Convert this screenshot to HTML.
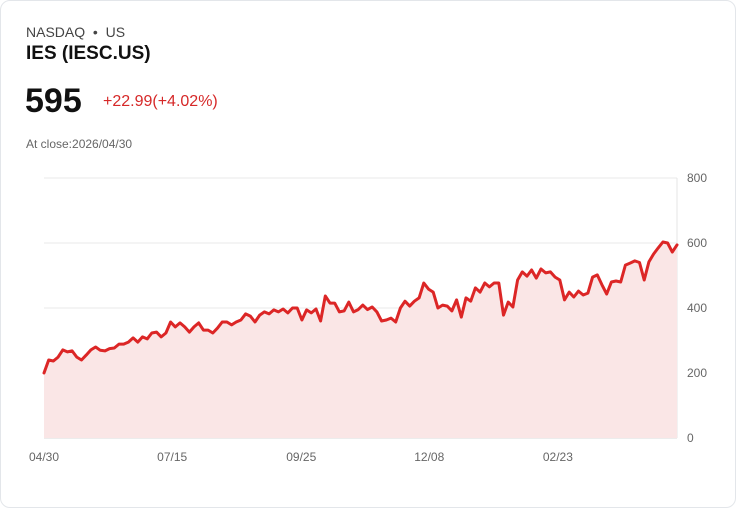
<!DOCTYPE html>
<html><head><meta charset="utf-8"><style>
body{margin:0;background:#fff;font-family:"Liberation Sans",sans-serif;}
.card{position:absolute;left:0;top:0;width:734px;height:506px;border:1px solid #e3e6ea;border-radius:10px;background:#fff;}
.t{position:absolute;white-space:nowrap;}
</style></head><body>
<div class="card">
<div class="t" style="left:25px;top:23px;font-size:14px;color:#444">NASDAQ &nbsp;•&nbsp; US</div>
<div class="t" style="left:25px;top:42px;font-size:19px;font-weight:bold;color:#111">IES (IESC.US)</div>
<div class="t" style="left:24px;top:81px;font-size:34px;font-weight:bold;color:#111">595</div>
<div class="t" style="left:102px;top:92px;font-size:16px;color:#d62828">+22.99(+4.02%)</div>
<div class="t" style="left:25px;top:136px;font-size:12px;color:#666">At close:2026/04/30</div>
<svg id="chart" width="736" height="508" style="position:absolute;left:0;top:0"></svg>
</div>
<script>
const values=[200,240,237,249,271,265,268,249,240,255,271,280,270,268,275,277,289,289,295,308,295,311,305,323,326,311,323,357,342,354,342,326,342,354,332,332,323,338,357,357,348,357,363,382,375,357,378,388,382,394,388,397,385,400,400,363,394,385,397,360,437,415,415,388,391,418,388,395,409,395,403,388,360,363,369,357,400,421,406,421,431,477,458,449,400,409,406,391,425,372,431,421,462,449,477,465,477,477,378,418,403,486,511,498,517,492,520,508,511,495,486,425,449,434,452,440,446,495,502,471,443,480,483,480,532,538,545,540,486,542,566,585,603,600,572,594];
const yTicks=[0,200,400,600,800];
const xLabels=["04/30","07/15","09/25","12/08","02/23"];
const xLabelFrac=[0,0.2025,0.4064,0.6086,0.8118];
const svg=document.getElementById('chart');const NS='http://www.w3.org/2000/svg';
const L=43,R=676,T=177,B=437;
const y=v=>B-(v/800)*(B-T);
const x=i=>L+(R-L)*i/(values.length-1);
function mk(tag,attrs){const e=document.createElementNS(NS,tag);for(const k in attrs)e.setAttribute(k,attrs[k]);svg.appendChild(e);return e;}
yTicks.forEach(v=>{
 const g=mk('line',{x1:L,x2:R,y1:y(v),y2:y(v),stroke:v===0?'#d8d8d8':'#e8e8e8','stroke-width':1});
 
 
 const t=mk('text',{x:686,y:y(v)+4,'font-size':12,fill:'#666','font-family':'Liberation Sans'});t.textContent=v;
 
 
});
const ax=mk('line',{x1:R,x2:R,y1:T,y2:B,stroke:'#e4e4e4'});


xLabels.forEach((s,i)=>{
 const t=mk('text',{x:L+(R-L)*xLabelFrac[i],y:460,'font-size':12,fill:'#666','text-anchor':'middle','font-family':'Liberation Sans'});t.textContent=s;
 
 
});
let d=values.map((v,i)=>(i?'L':'M')+x(i).toFixed(1)+','+y(v).toFixed(1)).join('');
const area=mk('path',{d:d+`L${R},${B}L${L},${B}Z`,fill:'#fae6e6'});


const line=mk('path',{d:d,fill:'none',stroke:'#dc2626','stroke-width':3,'stroke-linejoin':'round','stroke-linecap':'round'});


</script>
</body></html>
